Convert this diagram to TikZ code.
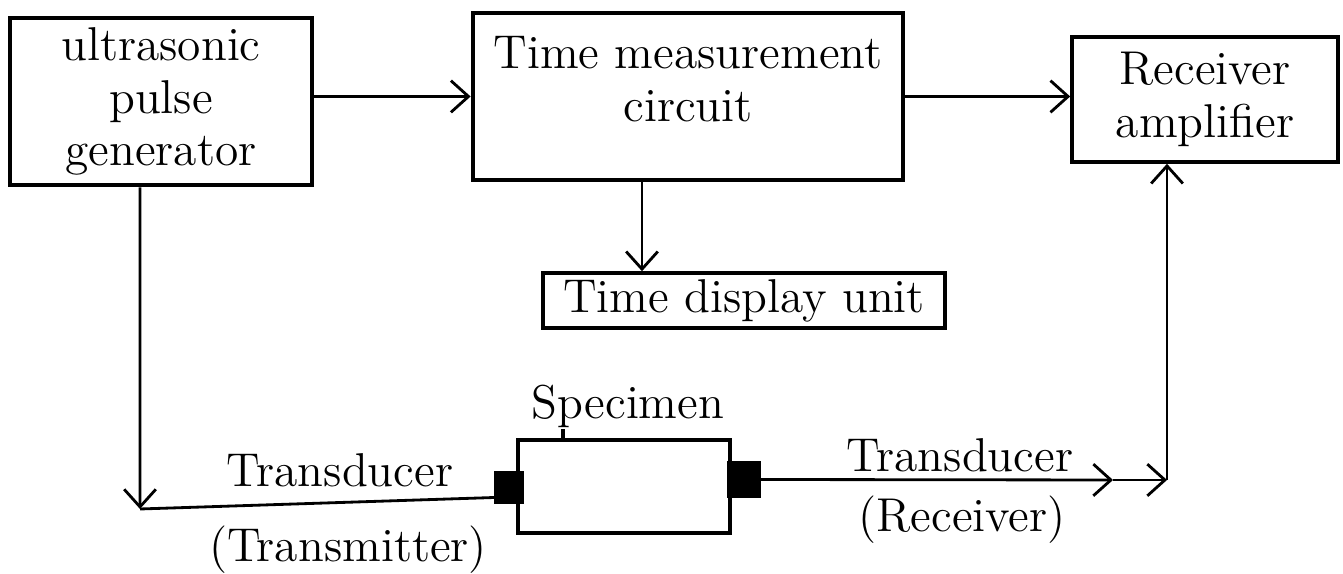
\documentclass[tikz,border=0pt]{standalone}
\usetikzlibrary{arrows.meta}
\tikzset{
  blockS/.style ={draw=black, line width=1.3pt, align=center, inner sep=2pt},
  thinblock/.style={draw=black, line width=1pt, align=center, inner sep=2pt},
  xducer/.style ={draw=black, fill=black, inner sep=0pt},
  lbl/.style    ={inner sep=1pt},
  arr/.style    ={line width=0.8pt, -{Straight Barb[length=5pt,width=9pt,line width=0.8pt]}},
  wire/.style   ={line width=0.8pt},
}

\begin{document}
\begin{tikzpicture}[x=0.01cm, y=-0.01cm, every node/.style={font=\fontsize{13.5}{15}\selectfont}]
  \useasboundingbox (0,0) rectangle (1343,574);
  \node[blockS, minimum width=3.02cm, minimum height=1.67cm] (gen) at (161,101.5)
    {ultrasonic\\pulse\\generator};
  \node[blockS, minimum width=4.30cm, minimum height=1.67cm, text depth=0.35cm] (tmc) at (688,96.5)
    {Time measurement\\circuit};
  \node[thinblock, minimum width=2.66cm, minimum height=1.25cm] (rx) at (1205,99.5)
    {Receiver\\amplifier};
  \node[thinblock, minimum width=4.02cm, minimum height=0.55cm, inner sep=0pt] (tdu) at (744,300.5)
    {Time display unit};
  \node[thinblock, minimum width=2.12cm, minimum height=0.93cm] (spec) at (624,486.5) {};
  \node[xducer, minimum width=0.28cm, minimum height=0.31cm] (tx) at (509,487.5) {};
  \node[xducer, minimum width=0.32cm, minimum height=0.35cm] (rxd) at (744,479.5) {};

  \node[lbl] (lspec) at (628,406) {Specimen};
  \node[lbl] (ltx) at (340,470) {Transducer};
  \node[lbl] (ltxb) at (348,550) {(Transmitter)};
  \node[lbl] (lrx) at (960,455) {Transducer};
  \node[lbl] (lrxb) at (962,520) {(Receiver)};

  \coordinate (c1) at (140,509);
  \coordinate (m1) at (1113,480);
  \coordinate (c2) at (1167,480);

  \draw[arr] (gen.east |- tmc.west) -- (tmc.west);
  \draw[arr] (tmc.east) -- (tmc.east -| rx.west);
  \draw[arr] ([xshift=-4.6mm]tmc.south) -- ([xshift=-4.6mm]tmc.south |- tdu.north);
  \draw[arr] ([xshift=-2.1mm]gen.south) -- (c1);
  \draw[wire] (c1) -- ([yshift=-1mm]tx.west);
  \draw[arr] (rxd.east) -- (m1);
  \draw[arr] (m1) -- (c2);
  \draw[arr] (c2) -- (c2 |- rx.south);
  \draw[line width=1pt] ([xshift=-6.1mm]spec.north) -- ++(0,-9);
\end{tikzpicture}
\end{document}
